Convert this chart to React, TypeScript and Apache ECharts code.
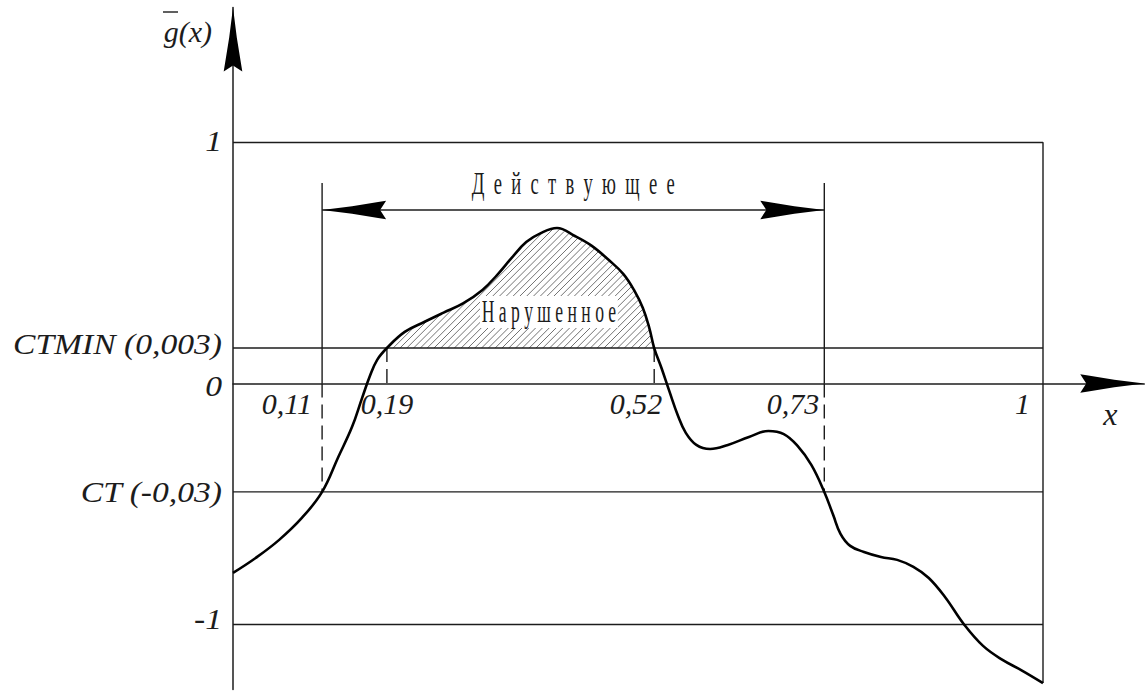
import React, { useEffect, useRef } from 'react';
import * as echarts from 'echarts';

// Curve g(x) sampled along x
const curveX = [
  0, 0.028, 0.057, 0.085, 0.11, 0.13, 0.147, 0.159, 0.169, 0.178,
  0.19, 0.212, 0.236, 0.26, 0.284, 0.308, 0.326, 0.344, 0.362, 0.38,
  0.4, 0.422, 0.443, 0.464, 0.482, 0.495, 0.506, 0.514, 0.52, 0.529,
  0.539, 0.549, 0.559, 0.572, 0.589, 0.611, 0.637, 0.661, 0.68, 0.697,
  0.714, 0.73, 0.741, 0.75, 0.762, 0.779, 0.8, 0.82, 0.84, 0.859,
  0.879, 0.903, 0.926, 0.95, 0.973, 1,
];
const curveY = [
  -0.786, -0.724, -0.649, -0.558, -0.45, -0.305, -0.18, -0.064, 0.031, 0.098,
  0.147, 0.214, 0.255, 0.294, 0.332, 0.388, 0.45, 0.521, 0.587, 0.624,
  0.645, 0.612, 0.571, 0.512, 0.454, 0.388, 0.313, 0.23, 0.147, 0.064,
  -0.035, -0.131, -0.205, -0.255, -0.272, -0.255, -0.222, -0.197, -0.21, -0.259,
  -0.338, -0.45, -0.546, -0.624, -0.674, -0.699, -0.72, -0.732, -0.761, -0.807,
  -0.886, -1.002, -1.089, -1.147, -1.189, -1.243,
];

// Threshold levels (schematic positions) and their labels
const ctminLevel = 0.147;
const ctLevel = -0.45;
const yTickValues = [1, ctminLevel, 0, ctLevel, -1];
const yTickLabels = ['1', 'CTMIN (0,003)', '0', 'CT (-0,03)', '-1'];

// Marked x positions and their labels
const xMarkValues = [0.11, 0.19, 0.52, 0.73, 1];
const xMarkLabels = ['0,11', '0,19', '0,52', '0,73', '1'];

// Intervals
const activeRange = [0.11, 0.73];
const violatedRange = [0.19, 0.52];
const activeArrowLevel = 0.72;
const activeBracketTop = 0.832;

const activeText = 'Д\u2002е\u2002й\u2002с\u2002т\u2002в\u2002у\u2002ю\u2002щ\u2002е\u2002е';
const violatedText = 'Н а р у ш е н н о е';

// Axis extents
const X_MAX = 1.125;
const Y_MIN = -1.27;
const Y_MAX = 1.56;

// Arrowhead outline, tip at origin, pointing along +u
const ARROW_SHAPE: number[][] = [
  [0, 0], [-30, -3.8], [-56, -8], [-64, -9.3], [-58, 0], [-64, 9.3], [-56, 8], [-30, 3.8],
];

const INK = '#1c1c1c';
const SERIF = '"Liberation Serif", "Times New Roman", serif';

function hatchSegments(poly: number[][], step: number) {
  const sums = poly.map((p) => p[0] + p[1]);
  const lo = Math.min(...sums);
  const hi = Math.max(...sums);
  const segs: number[][][] = [];
  for (let c = Math.ceil(lo / step) * step; c < hi; c += step) {
    const hits: number[][] = [];
    for (let i = 0; i < poly.length; i++) {
      const p = poly[i];
      const q = poly[(i + 1) % poly.length];
      const f1 = p[0] + p[1] - c;
      const f2 = q[0] + q[1] - c;
      if ((f1 < 0) !== (f2 < 0)) {
        const t = f1 / (f1 - f2);
        hits.push([p[0] + t * (q[0] - p[0]), p[1] + t * (q[1] - p[1])]);
      }
    }
    hits.sort((a, b) => a[0] - b[0]);
    for (let k = 0; k + 1 < hits.length; k += 2) segs.push([hits[k], hits[k + 1]]);
  }
  return segs;
}

function segment(points: number[][], dashed = false, width = 1.4) {
  return {
    type: 'line',
    data: points,
    symbol: 'none',
    silent: true,
    clip: false,
    z: 2,
    lineStyle: { color: INK, width, type: dashed ? [14, 7] : 'solid' },
  };
}

export default function App() {
  const ref = useRef<HTMLDivElement>(null);

  useEffect(() => {
    if (!ref.current) return;
    const chart = echarts.init(ref.current, null, { renderer: 'svg' });

    const curveData = curveX.map((x, i) => [x, curveY[i]]);
    const hatchIdx = curveX
      .map((x, i) => i)
      .filter((i) => curveX[i] >= violatedRange[0] && curveX[i] <= violatedRange[1]);
    const hatchX = hatchIdx.map((i) => curveX[i]);
    const hatchY = hatchIdx.map((i) => curveY[i]);
    const lastY = curveY[curveY.length - 1];

    const series: any[] = [
      // frame: top line with right edge, bottom reference line, thresholds
      segment([[0, 1], [1, 1], [1, lastY]]),
      segment([[0, -1], [1, -1]]),
      segment([[0, ctminLevel], [1, ctminLevel]]),
      segment([[0, ctLevel], [1, ctLevel]]),
      // bracket of the active interval
      segment([[activeRange[0], 0], [activeRange[0], activeBracketTop]]),
      segment([[activeRange[1], 0], [activeRange[1], activeBracketTop]]),
      segment([[activeRange[0], activeArrowLevel], [activeRange[1], activeArrowLevel]]),
      segment([[activeRange[0], 0], [activeRange[0], ctLevel]], true),
      segment([[activeRange[1], 0], [activeRange[1], ctLevel]], true),
      segment([[violatedRange[0], ctminLevel], [violatedRange[0], 0]], true),
      segment([[violatedRange[1], ctminLevel], [violatedRange[1], 0]], true),
      {
        // hatching between the curve and CTMIN over the violated interval
        type: 'custom',
        coordinateSystem: 'cartesian2d',
        silent: true,
        z: 1,
        data: [[violatedRange[0], ctminLevel]],
        renderItem: (_params: any, api: any) => {
          const poly = hatchX.map((x, i) => api.coord([x, hatchY[i]]));
          const segs = hatchSegments(poly, 6.8);
          return {
            type: 'group',
            children: segs.map(([a, b]) => ({
              type: 'line',
              shape: { x1: a[0], y1: a[1], x2: b[0], y2: b[1] },
              style: { stroke: '#5a5a5a', lineWidth: 0.85 },
            })),
          };
        },
      },
      {
        type: 'line',
        data: curveData,
        smooth: 0.4,
        symbol: 'none',
        silent: true,
        clip: false,
        z: 5,
        lineStyle: { color: '#000', width: 2.6 },
      },
      {
        type: 'custom',
        coordinateSystem: 'cartesian2d',
        silent: true,
        clip: false,
        z: 6,
        // x, y, direction (0 right, 1 left, 2 up)
        data: [
          [activeRange[0], activeArrowLevel, 1],
          [activeRange[1], activeArrowLevel, 0],
          [X_MAX, 0, 0],
          [0, Y_MAX, 2],
        ],
        renderItem: (_params: any, api: any) => {
          const [px, py] = api.coord([api.value(0), api.value(1)]);
          const code = api.value(2);
          const dx = code === 0 ? 1 : code === 1 ? -1 : 0;
          const dy = code === 2 ? -1 : 0;
          const pts = ARROW_SHAPE.map(([u, v]) => [px + u * dx - v * dy, py + u * dy + v * dx]);
          return { type: 'polygon', shape: { points: pts }, style: { fill: '#000' } };
        },
      },
    ];

    chart.setOption({
      animation: false,
      backgroundColor: '#ffffff',
      grid: {
        left: 233,
        top: 7.5,
        width: X_MAX * 810,
        height: (Y_MAX - Y_MIN) * 241,
        containLabel: false,
        outerBoundsMode: 'none',
      },
      xAxis: {
        type: 'value',
        min: 0,
        max: X_MAX,
        axisLine: { show: true, onZero: true, lineStyle: { color: INK, width: 1.5 } },
        axisTick: { show: false },
        axisLabel: { show: false },
        splitLine: { show: false },
      },
      yAxis: {
        type: 'value',
        min: Y_MIN,
        max: Y_MAX,
        axisLine: { show: true, onZero: true, lineStyle: { color: INK, width: 1.5 } },
        axisTick: { show: false },
        axisLabel: { show: false },
        splitLine: { show: false },
      },
      series,
    });

    const toPx = (x: number, y: number) =>
      chart.convertToPixel({ xAxisIndex: 0, yAxisIndex: 0 }, [x, y]) as number[];

    const labelFont = `italic 30px ${SERIF}`;
    const textEl = (x: number, y: number, text: string, align: string, font: string, scaleX = 1, extra: any = {}) => ({
      type: 'text',
      x,
      y,
      scaleX,
      silent: true,
      z: 20,
      style: {
        text,
        font,
        fill: INK,
        align,
        textAlign: align,
        verticalAlign: 'middle',
        textVerticalAlign: 'middle',
        ...extra,
      },
    });

    const graphics: any[] = [];

    const yLift = [-1, -4, 3, 0, -5];
    yTickValues.forEach((v, i) => {
      const p = toPx(0, v);
      graphics.push(textEl(p[0] - 11, p[1] + yLift[i], yTickLabels[i], 'right', labelFont, 1.12));
    });

    const xAnchor = ['right', 'center', 'right', 'right', 'right'];
    const xShift = [-10, 0, 8, -5, -13];
    xMarkValues.forEach((v, i) => {
      const p = toPx(v, 0);
      graphics.push(textEl(p[0] + xShift[i], p[1] + 20, xMarkLabels[i], xAnchor[i], labelFont));
    });

    const xEnd = toPx(X_MAX, 0);
    graphics.push(textEl(xEnd[0] - 34, xEnd[1] + 31, 'x', 'center', `italic 32px ${SERIF}`));

    const yTop = toPx(0, Y_MAX);
    graphics.push(textEl(yTop[0] - 21, yTop[1] + 24, 'g(x)', 'right', labelFont));
    graphics.push({
      type: 'line',
      silent: true,
      z: 20,
      shape: { x1: yTop[0] - 70, y1: yTop[1] + 4.5, x2: yTop[0] - 55, y2: yTop[1] + 4.5 },
      style: { stroke: INK, lineWidth: 1.4 },
    });

    const mid = toPx((activeRange[0] + activeRange[1]) / 2, activeArrowLevel);
    graphics.push(textEl(mid[0], mid[1] - 26, activeText, 'center', `31px ${SERIF}`, 0.6));

    const vp = toPx(0.39, 0.297);
    graphics.push(
      textEl(vp[0], vp[1], violatedText, 'center', `32px ${SERIF}`, 0.55, {
        backgroundColor: '#ffffff',
        padding: [0, 3],
      }),
    );

    chart.setOption({ graphic: graphics });

    return () => chart.dispose();
  }, []);

  return (
    <div
      ref={ref}
      style={{ position: 'fixed', left: 0, top: 0, width: 1145, height: 695, background: '#fff' }}
    />
  );
}
